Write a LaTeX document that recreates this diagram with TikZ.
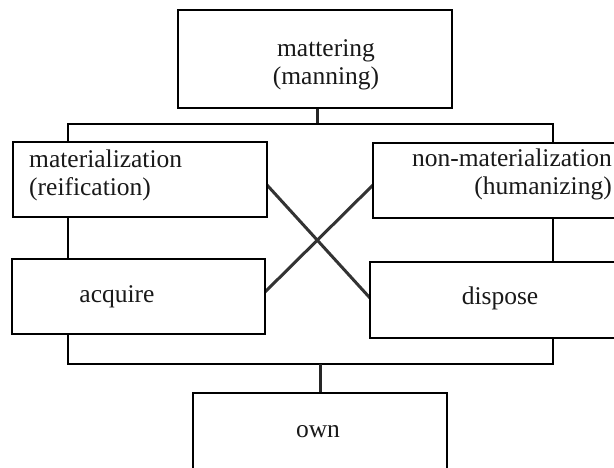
\documentclass[tikz,border=0pt]{standalone}
\usepackage{fontspec}
\setmainfont{Liberation Serif}
\begin{document}
\begin{tikzpicture}[x=1pt,y=-1pt,
  box/.style={draw=black, fill=white, line width=1.8pt, rectangle, inner sep=0pt, outer sep=0pt},
  conn/.style={draw=black, line width=1.8pt},
  stem/.style={draw=black!85, line width=3pt},
  cross/.style={draw=black!80, line width=3pt},
  txt/.style={font=\fontsize{25.5}{28}\selectfont, inner sep=0pt, text=black!90}]
\clip (0,0) rectangle (614,468);
\fill[white] (0,0) rectangle (614,468);
% junctions
\coordinate (tj) at (317,124);
\coordinate (bj) at (320,364);
\coordinate (lx) at (68,0);
\coordinate (rx) at (553,0);
% boxes (positions only, drawn later)
\path (315,59) node[box, minimum width=274pt, minimum height=98pt, draw=none, fill=none] (top) {};
\path (140,179.5) node[box, minimum width=254pt, minimum height=75pt, draw=none, fill=none] (mat) {};
\path (501.5,180.5) node[box, minimum width=257pt, minimum height=75pt, draw=none, fill=none] (nonmat) {};
\path (138.5,296.5) node[box, minimum width=253pt, minimum height=75pt, draw=none, fill=none] (acq) {};
\path (500,300) node[box, minimum width=260pt, minimum height=76pt, draw=none, fill=none] (disp) {};
\path (320,436.5) node[box, minimum width=254pt, minimum height=87pt, draw=none, fill=none] (own) {};
% connectors
\draw[stem] (tj |- top.south) -- (tj);
\draw[conn] (mat.north -| lx) |- (tj) -| (nonmat.north -| rx);
\draw[conn] (mat.south -| lx) -- (acq.north -| lx);
\draw[conn] (nonmat.south -| rx) -- (disp.north -| rx);
\draw[conn] (acq.south -| lx) |- (bj) -| (disp.south -| rx);
\draw[stem] (bj) -- (own.north -| bj);
\draw[cross] ([yshift=-5.5pt]mat.east) -- ([yshift=2pt]disp.west);
\draw[cross] ([yshift=4.5pt]acq.east) -- ([yshift=-4.5pt]nonmat.west);
% visible boxes
\draw[box] (top.north west) rectangle (top.south east);
\draw[box] (mat.north west) rectangle (mat.south east);
\draw[box] (nonmat.north west) rectangle (nonmat.south east);
\draw[box] (acq.north west) rectangle (acq.south east);
\draw[box] (disp.north west) rectangle (disp.south east);
\draw[box] (own.north west) rectangle (own.south east);
% texts
\node[txt, anchor=base] (t1) at (326,57) {mattering};
\node[txt, anchor=base] (t2) at (326,85) {(manning)};
\node[txt, anchor=base west] (t3) at (29,168) {materialization};
\node[txt, anchor=base west] (t4) at (29,196) {(reification)};
\node[txt, anchor=base east] (t5) at (612,167) {non-materialization};
\node[txt, anchor=base east] (t6) at (612,195) {(humanizing)};
\node[txt, anchor=base] (t7) at (117,302) {acquire};
\node[txt, anchor=base] (t8) at (500,305) {dispose};
\node[txt, anchor=base] (t9) at (318,437) {own};
\end{tikzpicture}
\end{document}
